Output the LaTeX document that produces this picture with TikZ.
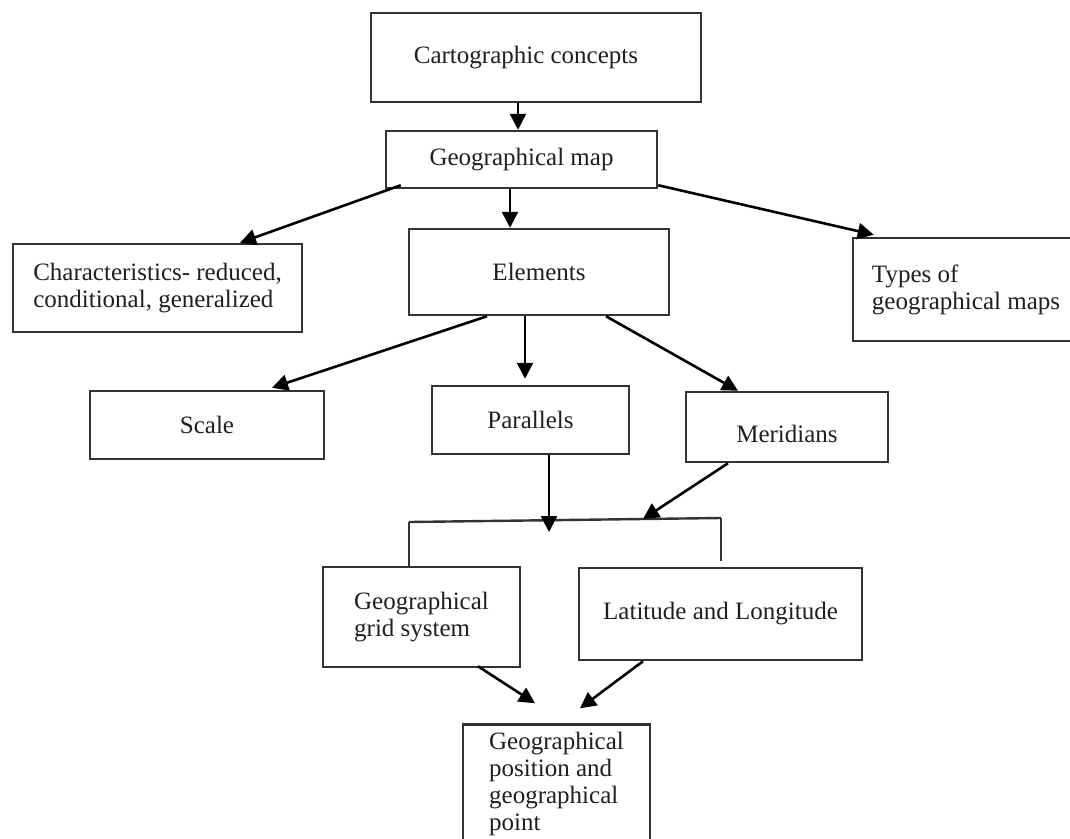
\documentclass[tikz,border=0pt]{standalone}
\usepackage{fontspec}
\setmainfont{Liberation Serif}
\usetikzlibrary{arrows.meta}

\tikzset{
  box/.style={draw=black!80, line width=2.5pt, rectangle, inner sep=0pt,
    text=black!88, align=left, font=\fontsize{25}{27}\selectfont},
  link/.style={draw=black, line width=2.6pt,
    -{Triangle[length=16pt,width=16pt]}},
  plain/.style={draw=black!80, line width=2.4pt},
}

\begin{document}
\begin{tikzpicture}[x=1pt,y=-1pt]
  \useasboundingbox (0,0) rectangle (1070,838);
  \fill[white] (0,0) rectangle (1070,838);
  \clip (0,0) rectangle (1070,838);

  % boxes
  \node[box, minimum width=330, minimum height=89] (cart) at (536,57.5) {\hspace*{-20pt}Cartographic concepts};
  \node[box, minimum width=271, minimum height=57] (geomap) at (521.5,159.5) {Geographical map};
  \node[box, minimum width=260, minimum height=86] (elements) at (539,272) {Elements};
  \node[box, minimum width=289, minimum height=88] (char) at (157.5,288) {Characteristics- reduced,\\conditional, generalized};
  \node[box, minimum width=226, minimum height=103] (types) at (966,289.5) {Types of\\geographical maps};
  \node[box, minimum width=234, minimum height=68] (scale) at (207,425) {Scale};
  \node[box, minimum width=197, minimum height=68] (parallels) at (530.5,420) {Parallels};
  \node[box, minimum width=202, minimum height=70, text height=31pt] (meridians) at (787,427) {Meridians};
  \node[box, minimum width=197, minimum height=100] (grid) at (421.5,617) {Geographical\\grid system};
  \node[box, minimum width=283, minimum height=92] (lat) at (720.5,614) {Latitude and Longitude};
  \node[box, minimum width=187, minimum height=119] (pos) at (556.5,784) {Geographical\\position and\\geographical\\point};

  % junction line collecting parallels and meridians
  \coordinate (busL) at (409,522);
  \coordinate (busR) at (721,518);
  \coordinate (ptip) at (549,532);
  \coordinate (mtip) at (643,519);

  \draw[plain] (busL) -- (busR);
  \draw[plain] (busL) -- ([xshift=-12.5]grid.north);
  \draw[plain] (busR) -- ([xshift=0.5,yshift=6]lat.north);

  % connectors
  \draw[link] ([xshift=-18]cart.south) -- ([xshift=-3.5]geomap.north);
  \draw[link] ([xshift=-11.5]geomap.south) -- ([xshift=-29]elements.north);
  \draw[link] ([xshift=16,yshift=4]geomap.south west) -- ([xshift=82.5]char.north);
  \draw[link] ([yshift=4]geomap.south east) -- ([xshift=22,yshift=2]types.north west);
  \draw[link] ([xshift=-52]elements.south) -- ([xshift=65,yshift=2]scale.north);
  \draw[link] ([xshift=-14]elements.south) -- ([xshift=-5.5,yshift=6]parallels.north);
  \draw[link] ([xshift=67]elements.south) -- ([xshift=-49]meridians.north);
  \draw[link] ([xshift=18.5]parallels.south) -- (ptip);
  \draw[link] ([xshift=-59]meridians.south) -- (mtip);
  \draw[link] ([xshift=56.5,yshift=2]grid.south) -- ([xshift=-21.5,yshift=20]pos.north);
  \draw[link] ([xshift=-77.5]lat.south) -- ([xshift=23.5,yshift=15]pos.north);
\end{tikzpicture}
\end{document}
